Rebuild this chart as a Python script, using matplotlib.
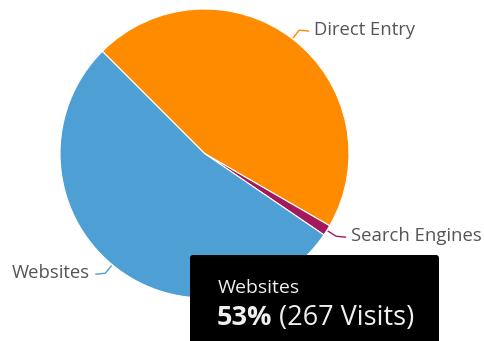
import numpy as np
import matplotlib
matplotlib.use("Agg")
import matplotlib.pyplot as plt
from matplotlib.patches import FancyBboxPatch

# Traffic sources (visits)
sources = ["Direct Entry", "Search Engines", "Websites"]
visits = [231, 6, 267]
colors = ["#FF8C00", "#A3195B", "#4D9FD4"]
highlight = "Websites"

W, H = 485, 341
plt.rcParams["font.family"] = ["Open Sans", "DejaVu Sans"]

fig = plt.figure(figsize=(W / 100, H / 100), dpi=100)
ax = fig.add_axes([0, 0, 1, 1])

cx, cy, r = 204.5, 153.5, 144.5

# axes use pixel-like units with y pointing down, so a counter-clockwise
# sweep in data space reads clockwise on screen
wedges, _ = ax.pie(
    visits, colors=colors, startangle=-135, counterclock=True,
    center=(cx, cy), radius=r, frame=True,
    wedgeprops=dict(edgecolor="white", linewidth=0.8),
)
ax.set_xlim(0, W)
ax.set_ylim(H, 0)
ax.set_aspect("equal")
ax.axis("off")

total = sum(visits)
for w, name, col in zip(wedges, sources, colors):
    mid = np.deg2rad((w.theta1 + w.theta2) / 2)
    dx, dy = np.cos(mid), np.sin(mid)
    p0 = (cx + (r + 1) * dx, cy + (r + 1) * dy)
    p1 = (cx + (r + 11) * dx, cy + (r + 11) * dy)
    side = 1 if dx >= 0 else -1
    p2 = (p1[0] + side * 10, p1[1] + 1)
    ax.plot([p0[0], p1[0], p2[0]], [p0[1], p1[1], p2[1]], color=col, lw=1.0,
            solid_capstyle="butt")
    ax.text(p2[0] + side * 5, p2[1] - 1, name, ha="left" if side > 0 else "right",
            va="center", fontsize=13.3, color="#555555")

# tooltip for the highlighted slice
idx = sources.index(highlight)
pct = round(100 * visits[idx] / total)
box = FancyBboxPatch((190, 255), 249, 100, boxstyle="round,pad=0,rounding_size=3",
                     facecolor="#000000", edgecolor="none", zorder=5)
ax.add_patch(box)
ax.text(218, 293, highlight, ha="left", va="baseline", fontsize=14,
        color="#f0f0f0", zorder=6)
t1 = ax.text(217, 325, f"{pct}%", ha="left", va="baseline", fontsize=19.5,
             fontweight="bold", color="#f0f0f0", zorder=6)
ax.annotate(f" ({visits[idx]} Visits)", xy=(1, 325), xycoords=(t1, "data"),
            ha="left", va="baseline", fontsize=19.5, color="#f0f0f0", zorder=6,
            annotation_clip=False)

fig.savefig("out.png", dpi=100)
